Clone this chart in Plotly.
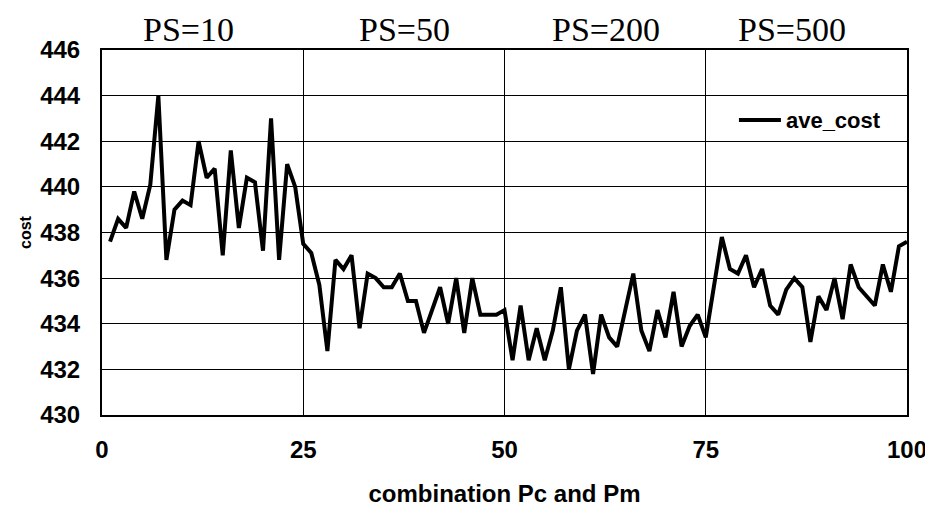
import plotly.graph_objects as go

x_vals = list(range(1, 101))
ave_cost = [
    437.6, 438.6, 438.2, 439.8, 438.6, 440.1, 444.0, 436.8, 439.0, 439.4,
    439.2, 442.0, 440.4, 440.8, 437.0, 441.6, 438.2, 440.4, 440.2, 437.2,
    443.0, 436.8, 441.0, 440.0, 437.5, 437.1, 435.7, 432.8, 436.8, 436.4,
    437.0, 433.8, 436.2, 436.0, 435.6, 435.6, 436.2, 435.0, 435.0, 433.6,
    434.6, 435.6, 434.0, 436.0, 433.6, 436.0, 434.4, 434.4, 434.4, 434.6,
    432.4, 434.8, 432.4, 433.8, 432.4, 433.7, 435.6, 432.0, 433.7, 434.4,
    431.8, 434.4, 433.4, 433.0, 434.7, 436.2, 433.7, 432.8, 434.6, 433.4,
    435.4, 433.0, 433.9, 434.4, 433.4, 435.6, 437.8, 436.4, 436.2, 437.0,
    435.6, 436.4, 434.8, 434.4, 435.5, 436.0, 435.6, 433.2, 435.2, 434.6,
    436.0, 434.2, 436.6, 435.6, 435.2, 434.8, 436.6, 435.4, 437.4, 437.6,
]
ps_labels = ["PS=10", "PS=50", "PS=200", "PS=500"]
ps_pos = [10.8, 37.6, 62.6, 85.7]
x_ticks = [0, 25, 50, 75, 100]
y_ticks = list(range(430, 447, 2))

fig = go.Figure()
fig.add_trace(go.Scatter(x=x_vals, y=ave_cost, mode="lines", name="ave_cost",
                         line=dict(color="black", width=4)))

for lab, p in zip(ps_labels, ps_pos):
    fig.add_annotation(x=p, y=1.0, xref="x", yref="paper", text=lab, showarrow=False,
                       yanchor="middle", yshift=21, borderpad=0,
                       font=dict(family="Liberation Serif", size=34, color="black"))

tick_font = dict(family="Liberation Sans", size=24, color="black", weight="bold")
fig.update_layout(
    width=925, height=499,
    margin=dict(l=94, r=26, t=42, b=92, autoexpand=False),
    paper_bgcolor="white", plot_bgcolor="white",
    showlegend=True,
    legend=dict(x=0.785, y=0.808, xanchor="left", yanchor="middle",
                bgcolor="rgba(0,0,0,0)", itemwidth=42,
                font=dict(family="Liberation Sans", size=22, color="black", weight="bold")),
    xaxis=dict(range=[0, 100], tickvals=x_ticks, showgrid=True, gridcolor="black", gridwidth=1,
               zeroline=False, showline=True, linecolor="black", linewidth=2, mirror=True,
               automargin=False,
               ticks="", tickfont=tick_font, ticklabelstandoff=12,
               title=dict(text="combination Pc and Pm", standoff=24,
                          font=dict(family="Liberation Sans", size=24, color="black", weight="bold"))),
    yaxis=dict(range=[430, 446], tickvals=y_ticks, showgrid=True, gridcolor="black", gridwidth=1,
               zeroline=False, showline=True, linecolor="black", linewidth=2, mirror=True,
               automargin=False,
               ticks="", tickfont=tick_font, ticklabelstandoff=15,
               title=dict(text="cost", standoff=5,
                          font=dict(family="Liberation Sans", size=16, color="black", weight="bold"))),
)

fig.write_html("out.html")
